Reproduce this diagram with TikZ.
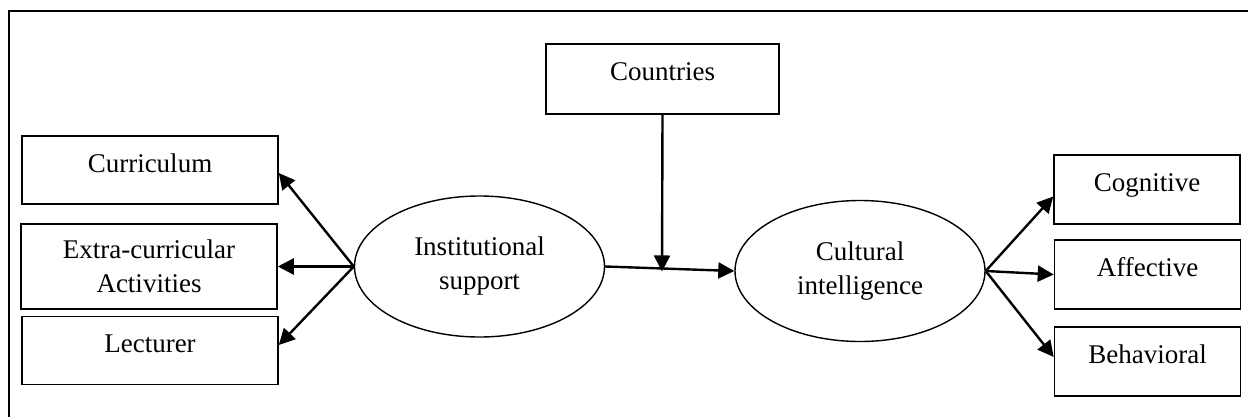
\documentclass[tikz,border=0pt]{standalone}
\usepackage{fontspec}
\setmainfont{Liberation Serif}
\usetikzlibrary{shapes.geometric,arrows.meta}

\begin{document}
\begin{tikzpicture}[x=0.5pt,y=-0.5pt,
    font=\fontsize{13.5}{17}\selectfont,
    box/.style={draw,line width=0.8pt,minimum width=128pt,minimum height=34pt,
        inner sep=0pt,text height=9pt,text depth=7pt},
    twobox/.style={draw,line width=0.8pt,minimum width=128pt,minimum height=42.5pt,
        inner sep=0pt,align=center},
    oval/.style={draw,ellipse,line width=0.7pt,minimum width=125pt,
        minimum height=70.5pt,inner sep=0pt,align=center},
    link/.style={-{Triangle[length=8pt,width=8pt]},line width=1.2pt}]

% === Canvas and frame ===
\useasboundingbox (0,0) rectangle (1248,417);
\draw[line width=0.7pt] (9,417) -- (9,11) -- (1248,11);

% === Left: indicators of institutional support ===
\node[box] (curr) at (150,170) {Curriculum};
\node[twobox] (extra) at (149,266.5) {Extra-curricular\\Activities};
\node[box] (lect) at (150,350.5) {Lecturer};

% === Central constructs ===
\node[oval] (inst) at (479.5,266.5) {Institutional\\support};
\node[oval] (cult) at (860,271) {Cultural\\intelligence};

% === Moderator ===
\node[box,minimum width=116.5pt,minimum height=35pt] (ctry) at (662.5,79) {Countries};

% === Right: dimensions of cultural intelligence ===
\node[box,minimum width=93pt,minimum height=34.5pt] (cog) at (1147,189.5) {Cognitive};
\node[box,minimum width=93pt,minimum height=34.5pt] (aff) at (1147.5,274.5) {Affective};
\node[box,minimum width=93pt,minimum height=34.5pt] (beh) at (1147.5,361.5) {Behavioral};

% === Arrows ===
\draw[link] (inst.west) -- ([yshift=-1.5pt]curr.east);
\draw[link] (inst.west) -- (extra.east);
\draw[link] (inst.west) -- ([yshift=2.75pt]lect.east);

\draw[link] (inst.east) -- coordinate[pos=0.44] (mod) (cult.west);
\draw[link] (ctry.south) -- ([yshift=-1.5pt]mod);

\draw[link] (cult.east) -- ([yshift=-3.5pt]cog.west);
\draw[link] (cult.east) -- (aff.west);
\draw[link] (cult.east) -- ([yshift=2.25pt]beh.west);

\end{tikzpicture}
\end{document}
